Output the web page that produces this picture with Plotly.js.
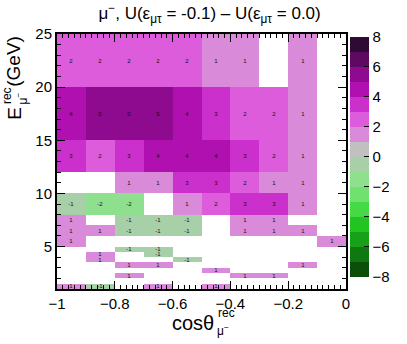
<!DOCTYPE html>
<html>
<head>
<meta charset="utf-8">
<script src="https://cdn.plot.ly/plotly-3.0.1.min.js"></script>
<style>
  html, body { margin: 0; padding: 0; background: #fff; }
  #chart { width: 407px; height: 344px; }
</style>
</head>
<body>
<div id="chart"></div>
<script>
// bin edges: cos(theta) and reconstructed muon energy (GeV)
const xEdges = [-1, -0.9, -0.8, -0.7, -0.6, -0.5, -0.4, -0.3, -0.2, -0.1, 0];
const yEdges = [1, 1.5, 2, 2.5, 3, 3.5, 4, 4.5, 5, 6, 7, 8, 10, 12, 15, 20, 25];

// difference per bin, bottom row first (null = empty bin)
const diff = [
    [1, -1, null, 1, null, 1, null, null, null, null],        // 1-1.5
    [null, null, null, null, null, null, null, null, null, null], // 1.5-2
    [null, null, 1, null, null, null, 1, 1, null, null],      // 2-2.5
    [null, null, null, null, null, 1, null, null, null, null], // 2.5-3
    [null, null, 1, 1, null, null, null, null, 1, null],      // 3-3.5
    [null, 1, null, null, -1, null, null, null, null, null],  // 3.5-4
    [null, 1, null, -1, null, null, null, null, null, null],  // 4-4.5
    [null, null, -1, -1, null, null, null, null, null, null], // 4.5-5
    [1, null, null, null, null, null, null, null, null, 1],   // 5-6
    [1, 1, -1, -1, -1, null, 1, 1, 1, null],                  // 6-7
    [1, null, -1, -1, -1, null, 1, 1, null, null],            // 7-8
    [-1, -2, -2, null, 1, 2, 3, 3, 1, null],                  // 8-10
    [null, null, 1, 1, 3, 3, 2, 1, 1, null],                  // 10-12
    [3, 2, 3, 4, 4, 4, 3, 2, 1, null],                        // 12-15
    [4, 5, 5, 5, 4, 3, 2, 2, 1, null],                        // 15-20
    [2, 2, 2, 2, 2, 1, 1, null, 1, null]                      // 20-25
];

// palette bands, from -8 up to +8 (one colour per unit)
const bandColors = [
    '#0b4f0b', '#107810', '#18a018', '#22c422', '#46d946', '#70e070', '#8ee08e', '#a8d0a8',
    '#c0c0c0', '#d98ad9', '#dc5cdc', '#cc30cc', '#b010b0', '#8e0a8e', '#5e0a62', '#2e0a34'
];
const zMin = -8, zMax = 8;

const colorscale = [];
bandColors.forEach((c, i) => {
    colorscale.push([i / bandColors.length, c]);
    colorscale.push([(i + 1) / bandColors.length, c]);
});

const labels = diff.map(row => row.map(v => v === null ? '' : String(v)));

const font = 'Liberation Sans, Arial, Helvetica, sans-serif';

const trace = {
    type: 'heatmap',
    x: xEdges,
    y: yEdges,
    z: diff,
    text: labels,
    texttemplate: '%{text}',
    textfont: { family: font, size: 6, color: '#111' },
    colorscale: colorscale,
    zmin: zMin,
    zmax: zMax,
    hoverongaps: false,
    colorbar: {
        x: 1.013, xanchor: 'left',
        y: 0.518, yanchor: 'middle',
        len: 0.94, lenmode: 'fraction',
        thickness: 19, thicknessmode: 'pixels',
        outlinewidth: 0,
        tickmode: 'array',
        tickvals: [-8, -6, -4, -2, 0, 2, 4, 6, 8],
        ticks: 'inside', ticklen: 5, tickcolor: '#000',
        tickfont: { family: font, size: 15, color: '#000' },
        xpad: 0, ypad: 0
    }
};

// paper coordinates from pixel positions (plot area 57..358 x 34..289)
const px = p => (p - 57) / 301;
const py = p => (289 - p) / 255;

const annotations = [
    { text: 'cosθ', x: px(199), y: py(323), font: { family: font, size: 20, color: '#000' } },
    { text: 'rec', x: px(234), y: py(313), font: { family: font, size: 12, color: '#000' } },
    { text: 'μ<sup>−</sup>', x: px(230), y: py(330), font: { family: font, size: 12, color: '#000' } },
    { text: 'E', x: px(12), y: py(113), textangle: -90, font: { family: font, size: 19, color: '#000' } },
    { text: 'rec', x: px(5), y: py(96), textangle: -90, font: { family: font, size: 12, color: '#000' } },
    { text: 'μ<sup>−</sup>', x: px(20), y: py(98), textangle: -90, font: { family: font, size: 12, color: '#000' } },
    { text: '(GeV)', x: px(12), y: py(61), textangle: -90, font: { family: font, size: 19, color: '#000' } }
].map(a => Object.assign({ xref: 'paper', yref: 'paper', showarrow: false, xanchor: 'center', yanchor: 'middle' }, a));

const axisCommon = {
    showgrid: false, zeroline: false,
    showline: true, linecolor: '#000', linewidth: 2, mirror: 'ticks',
    ticks: 'inside', ticklen: 8, tickwidth: 1, tickcolor: '#000',
    tickfont: { family: font, size: 15, color: '#000' }
};

const layout = {
    width: 407, height: 344,
    margin: { l: 57, r: 49, t: 34, b: 55 },
    paper_bgcolor: '#fff', plot_bgcolor: '#fff',
    title: {
        text: 'μ<sup>−</sup>, U(ε<sub>μτ</sub> = -0.1) – U(ε<sub>μτ</sub> = 0.0)',
        x: 0.515, xanchor: 'center', y: 0.962, yanchor: 'middle',
        font: { family: font, size: 17, color: '#000' }
    },
    xaxis: Object.assign({}, axisCommon, {
        range: [-1, 0], tick0: -1, dtick: 0.2,
        minor: { dtick: 0.02, ticks: 'inside', ticklen: 4, tickcolor: '#000', showgrid: false }
    }),
    yaxis: Object.assign({}, axisCommon, {
        range: [1, 25], tick0: 0, dtick: 5,
        minor: { dtick: 1, ticks: 'inside', ticklen: 4, tickcolor: '#000', showgrid: false }
    }),
    annotations: annotations,
    showlegend: false
};

Plotly.newPlot('chart', [trace], layout, { displayModeBar: false, staticPlot: true });
</script>
</body>
</html>
